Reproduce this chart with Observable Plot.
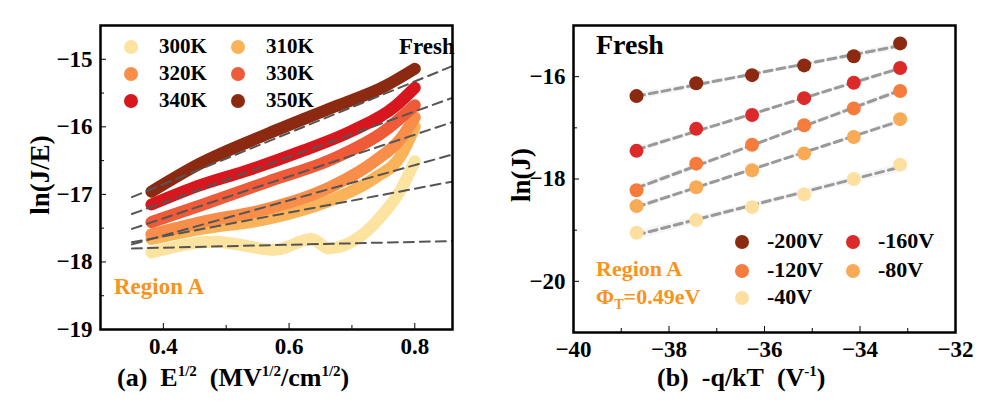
<!DOCTYPE html>
<html><head><meta charset="utf-8">
<script src="https://cdn.jsdelivr.net/npm/d3@7"></script>
<script src="https://cdn.jsdelivr.net/npm/@observablehq/plot@0.6"></script>
<style>
body{margin:0;background:#fff;width:994px;height:416px;position:relative;overflow:hidden;font-family:'Liberation Serif','DejaVu Serif','Times New Roman',serif;font-weight:bold}
.abs{position:absolute;white-space:nowrap;line-height:1}
.dot{position:absolute;border-radius:50%}
svg{position:absolute;top:0}
svg text{font-family:'Liberation Serif','DejaVu Serif','Times New Roman',serif !important;font-weight:bold}
</style></head><body>
<div id="L"></div><div id="R"></div>
<script>
// ---- Left panel data ----
const temps = ["300K","310K","320K","330K","340K","350K"];
const tempColors = ["#fde3a0","#fbb35a","#f98e4a","#ef5a38","#d7161e","#8b2a10"];
const curveX = {
 "350K":[0.381,0.455,0.567,0.673,0.752,0.8],
 "340K":[0.381,0.46,0.529,0.62,0.70,0.768,0.8],
 "330K":[0.381,0.46,0.567,0.673,0.752,0.8],
 "320K":[0.381,0.46,0.567,0.673,0.736,0.779,0.8],
 "310K":[0.381,0.46,0.567,0.673,0.736,0.779,0.8],
 "300K":[0.381,0.481,0.577,0.636,0.663,0.715,0.743,0.779,0.8]
};
const curveY = {
 "350K":[-16.96,-16.56,-16.1,-15.7,-15.4,-15.14],
 "340K":[-17.15,-16.86,-16.66,-16.36,-16.06,-15.7,-15.42],
 "330K":[-17.41,-17.16,-16.81,-16.46,-16.06,-15.68],
 "320K":[-17.59,-17.41,-17.21,-16.86,-16.51,-16.16,-15.86],
 "310K":[-17.66,-17.51,-17.36,-17.06,-16.76,-16.41,-16.0],
 "300K":[-17.86,-17.7,-17.82,-17.66,-17.8,-17.61,-17.36,-16.91,-16.51]
};
const fitX = [0.35, 0.86];
const fitStartY = [-17.8,-17.71,-17.74,-17.51,-17.29,-17.04];
const fitEndY = [-17.69,-16.81,-16.41,-15.93,-15.57,-15.1];

// ---- Right panel data ----
const biases = ["-200V","-160V","-120V","-80V","-40V"];
const biasColors = ["#8b2a10","#dc2a2a","#f77b3c","#f9aa55","#fde0a0"];
const qkT = [-38.68,-37.43,-36.26,-35.17,-34.13,-33.16];
const lnJ = {
 "-200V":[-16.38,-16.13,-15.97,-15.78,-15.6,-15.35],
 "-160V":[-17.45,-17.02,-16.75,-16.42,-16.12,-15.83],
 "-120V":[-18.22,-17.7,-17.33,-16.95,-16.62,-16.28],
 "-80V":[-18.53,-18.16,-17.83,-17.5,-17.18,-16.83],
 "-40V":[-19.05,-18.8,-18.55,-18.3,-18.0,-17.72]
};

const fmt = d => (d<0?"\u2212":"")+Math.abs(d);
const FF = "'Liberation Serif','DejaVu Serif','Times New Roman',serif";
const font = {fontFamily:FF,fontWeight:"bold",fontSize:"23px",color:"#000",background:"transparent"};

const curves = temps.flatMap(t => curveX[t].map((x,i)=>({t,x,y:curveY[t][i]})));
const fits = temps.flatMap((t,k)=>fitX.map((x,i)=>({t,x,y:i?fitEndY[k]:fitStartY[k]})));

const left = Plot.plot({
 width:470,height:416,marginLeft:100,marginRight:18,marginTop:25,marginBottom:87,
 style:font,
 x:{domain:[0.3,0.86]}, y:{domain:[-19,-14.5]},
 color:{domain:temps,range:tempColors},
 marks:[
  Plot.line(curves,{x:"x",y:"y",z:"t",stroke:"t",strokeWidth:12,curve:"monotone-x"}),
  Plot.line(fits,{x:"x",y:"y",z:"t",stroke:"#555",strokeWidth:2,strokeDasharray:"10,6",clip:true}),
  Plot.axisX({ticks:[0.4,0.6,0.8],tickSize:-6,tickPadding:14,tickFormat:d=>d.toFixed(1),label:null,fontSize:23}),
  Plot.axisX({ticks:[0.3,0.5,0.7],tickSize:-4,text:null,label:null}),
  Plot.axisY({ticks:[-19,-18,-17,-16,-15],tickSize:-6,tickPadding:14,tickFormat:fmt,label:null,fontSize:23}),
  Plot.axisY({ticks:[-18.5,-17.5,-16.5,-15.5],tickSize:-4,text:null,label:null}),
  Plot.frame({stroke:"#000",strokeWidth:2.5})
 ]
});
document.getElementById("L").appendChild(left);
left.style.left="0px";

const pts = biases.flatMap(b => qkT.map((x,i)=>({b,x,y:lnJ[b][i]})));
const right = Plot.plot({
 width:524,height:416,marginLeft:103,marginRight:39,marginTop:25,marginBottom:84,
 style:font,
 x:{domain:[-40,-32]}, y:{domain:[-21,-15]},
 color:{domain:biases,range:biasColors},
 marks:[
  Plot.linearRegressionY(pts,{x:"x",y:"y",z:"b",stroke:"#999",strokeWidth:3,strokeDasharray:"8,5"}),
  Plot.dot(pts,{x:"x",y:"y",fill:"b",r:7}),
  Plot.axisX({ticks:[-40,-38,-36,-34,-32],tickSize:-6,tickPadding:14,tickFormat:fmt,label:null,fontSize:23}),
  Plot.axisX({ticks:[-39,-37,-35,-33],tickSize:-4,text:null,label:null}),
  Plot.axisY({ticks:[-20,-18,-16],tickSize:-6,tickPadding:14,tickFormat:fmt,label:null,fontSize:23}),
  Plot.axisY({ticks:[-21,-19,-17,-15],tickSize:-4,text:null,label:null}),
  Plot.frame({stroke:"#000",strokeWidth:2.5})
 ]
});
document.getElementById("R").appendChild(right);
right.style.left="470px";

// ---- overlays: legends and labels ----
function txt(s,x,y,size,color,extra){const d=document.createElement("div");d.className="abs";d.innerHTML=s;
 d.style.left=x+"px";d.style.top=y+"px";d.style.fontSize=size+"px";d.style.color=color||"#000";if(extra)Object.assign(d.style,extra);document.body.appendChild(d);return d;}
function dot(x,y,r,c){const d=document.createElement("div");d.className="dot";d.style.left=(x-r)+"px";d.style.top=(y-r)+"px";d.style.width=d.style.height=2*r+"px";d.style.background=c;document.body.appendChild(d);}
// left legend
temps.forEach((t,i)=>{const col=i%2,row=Math.floor(i/2);const cx=131+col*107,cy=47+row*27;
 dot(cx,cy,7,tempColors[i]);txt(t,cx+28,cy-11,21);});
txt("Fresh",399,35,23);
txt("Region A",114,275,23,"#f7941d");
// right legend
const bpos=[[742,242],[853,242],[742,271],[853,271],[742,298]];
biases.forEach((b,i)=>{dot(bpos[i][0],bpos[i][1],7,biasColors[i]);txt(b,bpos[i][0]+25,bpos[i][1]-12,22);});
txt("Fresh",596,31,28);
txt("Region A",596,258,22,"#f7941d");
txt("&Phi;<sub style='font-size:14px'>T</sub>=0.49eV",596,286,22,"#f7941d");
// axis titles
txt("(a)&nbsp; E<sup style='font-size:15px'>1/2</sup>&nbsp; (MV<sup style='font-size:15px'>1/2</sup>/cm<sup style='font-size:15px'>1/2</sup>)",117,364,26);
txt("(b)&nbsp; -q/kT&nbsp; (V<sup style='font-size:15px'>-1</sup>)",657,364,26);
txt("ln(J/E)",40,175,27,"#000",{transform:"translate(-50%,-50%) rotate(-90deg)"});
txt("ln(J)",521,175,27,"#000",{transform:"translate(-50%,-50%) rotate(-90deg)"});
</script></body></html>
